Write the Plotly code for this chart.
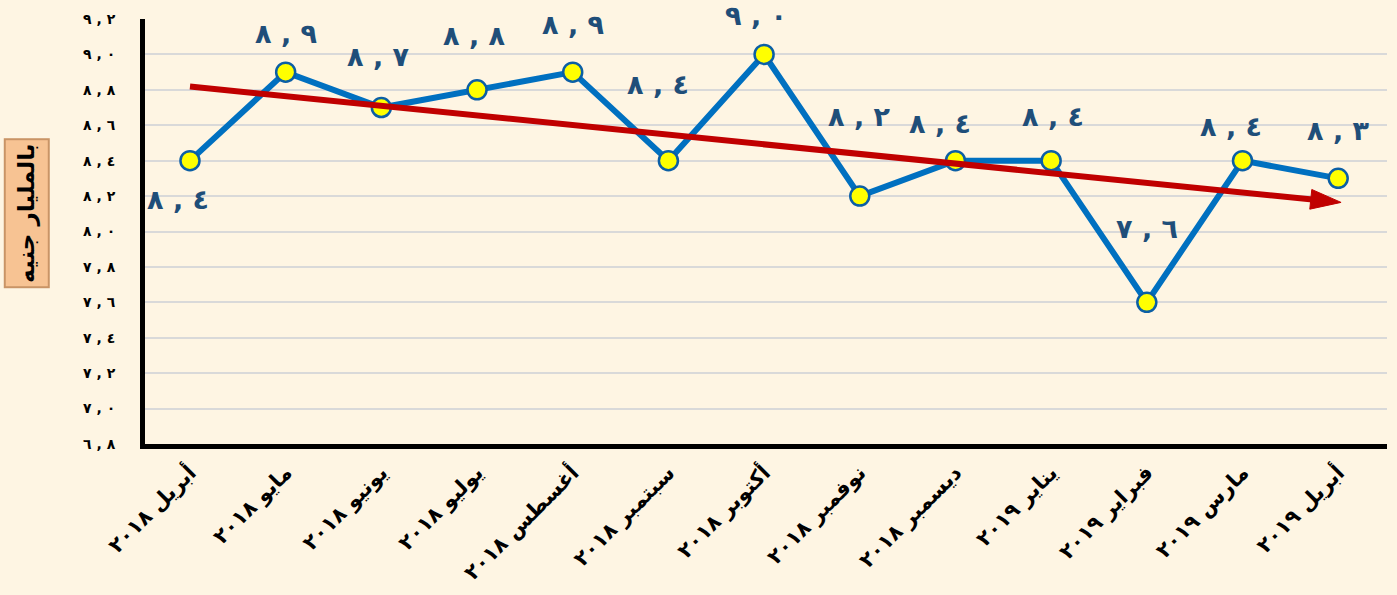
import numpy as np
import plotly.graph_objects as go

# ---- data ----
months = ["أبريل", "مايو", "يونيو", "يوليو", "أغسطس", "سبتمبر", "أكتوبر",
          "نوفمبر", "ديسمبر", "يناير", "فبراير", "مارس", "أبريل"]
years = ["٢٠١٨"] * 9 + ["٢٠١٩"] * 4
values = [8.4, 8.9, 8.7, 8.8, 8.9, 8.4, 9.0, 8.2, 8.4, 8.4, 7.6, 8.4, 8.3]
y_ticks = [6.8, 7.0, 7.2, 7.4, 7.6, 7.8, 8.0, 8.2, 8.4, 8.6, 8.8, 9.0, 9.2]
y_title = "بالمليار جنيه"

# ---- label styling (pixel offsets, not data) ----
label_yshift = [-39, 39, 51, 54, 48, 76, 39, 80, 37, 44, 74, 34, 48]
label_xshift = [-12, 0, -3, -3, 0, -10, -8, 0, -15, 2, 0, -12, 0]

AR = str.maketrans("0123456789", "٠١٢٣٤٥٦٧٨٩")
LRM = "\u200e"


def ar_num(v):
    a, b = f"{v:.1f}".split(".")
    return a.translate(AR) + LRM + " , " + LRM + b.translate(AR)


cats = [f"{m} {y}" for m, y in zip(months, years)]
xs = list(range(len(cats)))

BG = "#FEF5E3"
BLUE = "#0070C0"
RED = "#C00000"
FONT = "DejaVu Sans"

fig = go.Figure()
fig.add_trace(go.Scatter(
    x=xs, y=values, mode="lines+markers",
    line=dict(color=BLUE, width=6),
    marker=dict(size=19, color="#FFFF00", line=dict(color="#0B5FA5", width=2.5)),
    hoverinfo="skip", showlegend=False,
))

# trend arrow (least squares fit of values)
slope, icpt = np.polyfit(xs, values, 1)
tx = [xs[0], xs[-1] + 0.03]
ty = [slope * t + icpt for t in tx]
fig.add_trace(go.Scatter(
    x=tx, y=ty, mode="lines+markers",
    line=dict(color=RED, width=6),
    marker=dict(symbol="arrow", size=[0, 32], color=RED, opacity=1,
                angleref="previous", line=dict(width=1, color=RED)),
    hoverinfo="skip", showlegend=False,
))

# data labels
for i, v in enumerate(values):
    fig.add_annotation(
        x=xs[i], y=v, text="<b>" + ar_num(v) + "</b>", showarrow=False,
        yshift=label_yshift[i], xshift=label_xshift[i],
        font=dict(family=FONT, size=27, color="#1F4E79"),
    )

# y-axis title box
fig.add_annotation(
    xref="paper", yref="paper", x=0, y=0.543, xanchor="center", yanchor="middle",
    xshift=-118, text="<b>" + y_title + "</b>", showarrow=False, textangle=-90,
    font=dict(family=FONT, size=23, color="black"),
    bgcolor="#F7C393", bordercolor="#C99466", borderwidth=2,
    width=142, height=38, borderpad=2,
)

fig.update_layout(
    width=1397, height=595,
    margin=dict(l=145, r=10, t=19, b=149),
    paper_bgcolor=BG, plot_bgcolor=BG,
    xaxis=dict(
        range=[-0.47, 12.51], tickmode="array", tickvals=xs,
        ticktext=["<b>" + c + "</b>" for c in cats], tickangle=-45,
        showgrid=False, zeroline=False,
        showline=True, linecolor="black", linewidth=5,
        ticks="outside", ticklen=3, tickcolor="rgba(0,0,0,0)",
        tickfont=dict(family=FONT, size=21, color="black"),
    ),
    yaxis=dict(
        range=[6.8, 9.2], tickmode="array", tickvals=y_ticks,
        ticktext=["<b>" + ar_num(t) + "</b>" for t in y_ticks],
        showgrid=True, gridcolor="#D9D9D9", gridwidth=2, zeroline=False,
        showline=True, linecolor="black", linewidth=5,
        ticks="outside", ticklen=22, tickcolor="rgba(0,0,0,0)",
        tickfont=dict(family=FONT, size=14, color="black"),
    ),
)

fig.write_html(
    "out.html",
    config={"displayModeBar": False},
    post_script="document.body.style.margin='0';document.body.style.overflow='hidden';",
)
